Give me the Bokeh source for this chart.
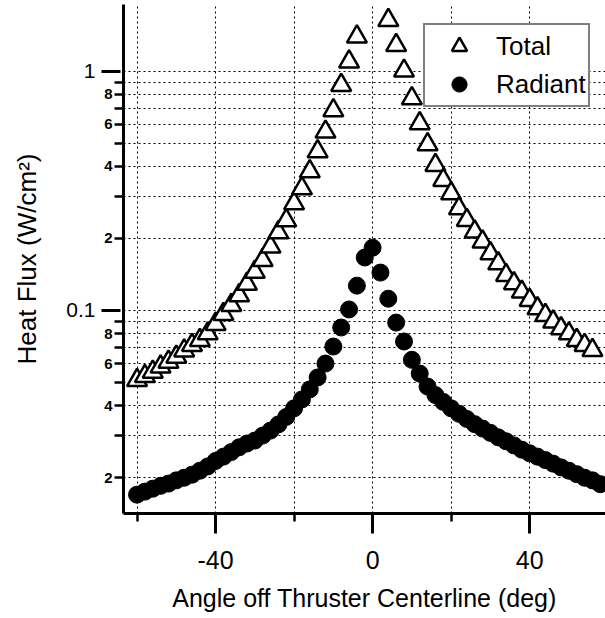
from bokeh.plotting import figure
from bokeh.models import FixedTicker, LogAxis, CustomJSTickFormatter, Range1d
from bokeh.embed import file_html
from bokeh.resources import INLINE

FONT = "Liberation Sans"

# ---- data ----
total_angle = [-60, -58, -56, -54, -52, -50, -48, -46, -44, -42, -40, -38, -36, -34,
               -32, -30, -28, -26, -24, -22, -20, -18, -16, -14, -12, -10, -8, -6, -4,
               4, 6, 8, 10, 12, 14, 16, 18, 20, 22, 24, 26, 28, 30, 32, 34, 36, 38,
               40, 42, 44, 46, 48, 50, 52, 54, 56]
total_flux = [0.0511, 0.0531, 0.0554, 0.0582, 0.0610, 0.0640, 0.0679, 0.0716, 0.0751,
              0.0801, 0.0877, 0.0965, 0.1052, 0.1155, 0.1290, 0.1448, 0.1622, 0.1846,
              0.2118, 0.2377, 0.2800, 0.3235, 0.3809, 0.4618, 0.5580, 0.6852, 0.874,
              1.095, 1.393,
              1.633, 1.284, 1.004, 0.769, 0.6045, 0.494, 0.4047, 0.3503, 0.3083, 0.2668,
              0.2384, 0.2133, 0.1937, 0.1730, 0.1572, 0.1405, 0.1297, 0.1197, 0.1104,
              0.1019, 0.0956, 0.0897, 0.0841, 0.0801, 0.0751, 0.0716, 0.0682]

radiant_angle = [-60, -58, -56, -54, -52, -50, -48, -46, -44, -42, -40, -38, -36, -34,
                 -32, -30, -28, -26, -24, -22, -20, -18, -16, -14, -12, -10, -8, -6, -4,
                 -2, 0, 2, 4, 6, 8, 10, 12, 14, 16, 18, 20, 22, 24, 26, 28, 30, 32, 34,
                 36, 38, 40, 42, 44, 46, 48, 50, 52, 54, 56, 58]
radiant_flux = [0.0170, 0.0175, 0.0180, 0.0185, 0.0189, 0.0195, 0.0200, 0.0206, 0.0214,
                0.0223, 0.0235, 0.0245, 0.0256, 0.0268, 0.0278, 0.0286, 0.0300, 0.0315,
                0.0334, 0.0359, 0.0390, 0.0425, 0.0468, 0.0525, 0.0600, 0.0707, 0.0849,
                0.101, 0.127, 0.1665, 0.183, 0.144, 0.112, 0.089, 0.0742, 0.0622,
                0.0545, 0.0481, 0.0443, 0.0415, 0.0390, 0.0370, 0.0352, 0.0335, 0.0321,
                0.0308, 0.0295, 0.0284, 0.0273, 0.0262, 0.0253, 0.0245, 0.0237, 0.0229,
                0.0221, 0.0214, 0.0207, 0.0200, 0.0195, 0.0188]

x_major = [-40, 0, 40]
x_minor = [-60, -20, 20]
x_grid = [-60, -40, -20, 0, 20, 40]
y_labeled = [0.02, 0.04, 0.06, 0.08, 0.2, 0.4, 0.6, 0.8]
y_unlabeled = [0.03, 0.05, 0.07, 0.09, 0.3, 0.5, 0.7, 0.9]
y_decades = [0.1, 1]
y_grid = [0.02, 0.03, 0.04, 0.05, 0.06, 0.07, 0.08, 0.09,
          0.1, 0.2, 0.3, 0.4, 0.5, 0.6, 0.7, 0.8, 0.9, 1]

p = figure(width=605, height=618, y_axis_type="log",
           x_range=Range1d(-63.45, 59.32), y_range=Range1d(0.014177, 1.9003),
           output_backend="svg", toolbar_location=None,
           min_border_left=123, min_border_right=0, min_border_top=4,
           min_border_bottom=105)
p.outline_line_color = None
p.background_fill_color = "white"
p.border_fill_color = "white"

# grids
p.xgrid.ticker = FixedTicker(ticks=x_grid)
p.ygrid.ticker = FixedTicker(ticks=y_grid)
for g in (p.xgrid[0], p.ygrid[0]):
    g.grid_line_color = "black"
    g.grid_line_dash = "2 3"
    g.grid_line_width = 1

# x axis
xa = p.xaxis[0]
xa.ticker = FixedTicker(ticks=x_major, minor_ticks=x_minor)
xa.formatter = CustomJSTickFormatter(code="return String(tick);")
xa.axis_line_width = 3
xa.major_tick_out = 20
xa.major_tick_in = 0
xa.minor_tick_out = 8
xa.minor_tick_in = 0
xa.major_tick_line_width = 3
xa.minor_tick_line_width = 2.5
xa.major_label_text_font = FONT
xa.major_label_text_font_size = "25px"
xa.major_label_text_color = "black"
xa.major_label_standoff = 17
xa.axis_label = "Angle off Thruster Centerline (deg)"
xa.axis_label_text_font = FONT
xa.axis_label_text_font_size = "25px"
xa.axis_label_text_font_style = "normal"
xa.axis_label_text_color = "black"
xa.axis_label_standoff = 12

# y axis (inner): small labels 2,4,6,8
ya = p.yaxis[0]
ya.ticker = FixedTicker(ticks=y_labeled, minor_ticks=y_unlabeled)
ya.formatter = CustomJSTickFormatter(
    code="const e = Math.floor(Math.log10(tick) + 1e-9); return String(Math.round(tick / Math.pow(10, e)));")
ya.axis_line_width = 3
ya.major_tick_out = 9
ya.major_tick_in = 0
ya.minor_tick_out = 9
ya.minor_tick_in = 0
ya.major_tick_line_width = 2.5
ya.minor_tick_line_width = 2.5
ya.major_label_text_font = FONT
ya.major_label_text_font_size = "15px"
ya.major_label_text_font_style = "bold"
ya.major_label_text_color = "black"
ya.major_label_standoff = 2

# y axis (outer): decade labels + long ticks + title
yb = LogAxis(ticker=FixedTicker(ticks=y_decades),
             formatter=CustomJSTickFormatter(code="return String(tick);"))
yb.axis_line_color = None
yb.major_tick_in = 19
yb.major_tick_out = 0
yb.major_tick_line_width = 3
yb.minor_tick_line_color = None
yb.major_label_text_font = FONT
yb.major_label_text_font_size = "21px"
yb.major_label_text_color = "black"
yb.major_label_standoff = 6
yb.axis_label = "Heat Flux (W/cm\u00b2)"
yb.axis_label_text_font = FONT
yb.axis_label_text_font_size = "26px"
yb.axis_label_text_font_style = "normal"
yb.axis_label_text_color = "black"
yb.axis_label_standoff = 21
p.add_layout(yb, "left")

# data
p.scatter(total_angle, total_flux, marker="triangle", size=20,
          fill_color="white", line_color="black", line_width=2.5,
          legend_label="Total")
p.scatter(radiant_angle, radiant_flux, marker="circle", size=17,
          fill_color="black", line_color="black", line_width=1,
          legend_label="Radiant")

lg = p.legend[0]
lg.location = (300, 406)
lg.margin = 0
lg.padding = 2
lg.glyph_height = 38
lg.glyph_width = 64
lg.spacing = 0
lg.label_standoff = 5
lg.label_width = 70
lg.label_text_font = FONT
lg.label_text_font_size = "26px"
lg.label_text_color = "black"
lg.border_line_color = "black"
lg.border_line_width = 2.5
lg.background_fill_color = "white"
lg.background_fill_alpha = 1.0

open("out.html", "w").write(file_html(p, INLINE))
